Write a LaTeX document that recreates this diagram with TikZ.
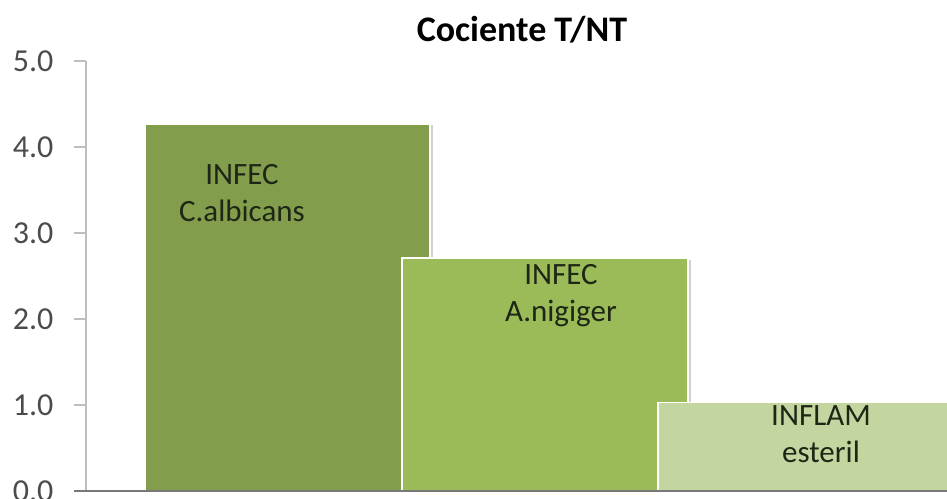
\documentclass[tikz,border=0pt]{standalone}
\usepackage{fontspec}
\setmainfont{Carlito}
\usetikzlibrary{positioning}
\definecolor{barA}{RGB}{130,158,76}
\definecolor{barB}{RGB}{155,187,89}
\definecolor{barC}{RGB}{196,214,160}
\definecolor{axisgray}{RGB}{190,190,190}
\definecolor{axisdark}{RGB}{120,120,120}
\definecolor{tickgray}{RGB}{75,75,75}
\definecolor{labeldark}{RGB}{30,38,22}

\begin{document}
\begin{tikzpicture}[x=1pt, y=86pt,
    bar/.style={draw=white, line width=1.5pt},
    shade/.style={fill=black!18},
    barlabel/.style={align=center, text=labeldark, font=\fontsize{31}{37}\selectfont},
    ticklabel/.style={anchor=east, text=tickgray, font=\fontsize{32}{36}\selectfont}]
    \useasboundingbox (0,-8/86) rectangle (947,491/86);
    % axis
    \draw[axisgray, line width=1.4pt] (86,0) -- (86,5);
    \foreach \v in {0,...,5} {
        \draw[axisgray, line width=1.4pt] (74,\v) -- (86,\v);
        \node[ticklabel] (t\v) at (57,\v) {\v.0};
    }
    % bars
    \fill[shade] (147,0) rectangle (433,4.25);
    \draw[bar, fill=barA] (145,0) rectangle (430,4.27);
    \fill[shade] (404,0) rectangle (691,2.69);
    \draw[bar, fill=barB] (402,0) rectangle (688,2.71);
    \draw[bar, fill=barC] (658,0) rectangle (952,1.03);
    \draw[axisdark, line width=1.4pt] (74,0) -- (947,0);
    % labels
    \node[barlabel] (albicans) at (242,3.46) {INFEC\\C.albicans};
    \node[barlabel] (nigiger) at (561,2.27) {INFEC\\A.nigiger};
    \node[barlabel] (esteril) at (821,0.66) {INFLAM\\esteril};
    \node[font=\fontsize{36}{42}\selectfont\bfseries] (title) at (522,5.36) {Cociente T/NT};
\end{tikzpicture}
\end{document}
